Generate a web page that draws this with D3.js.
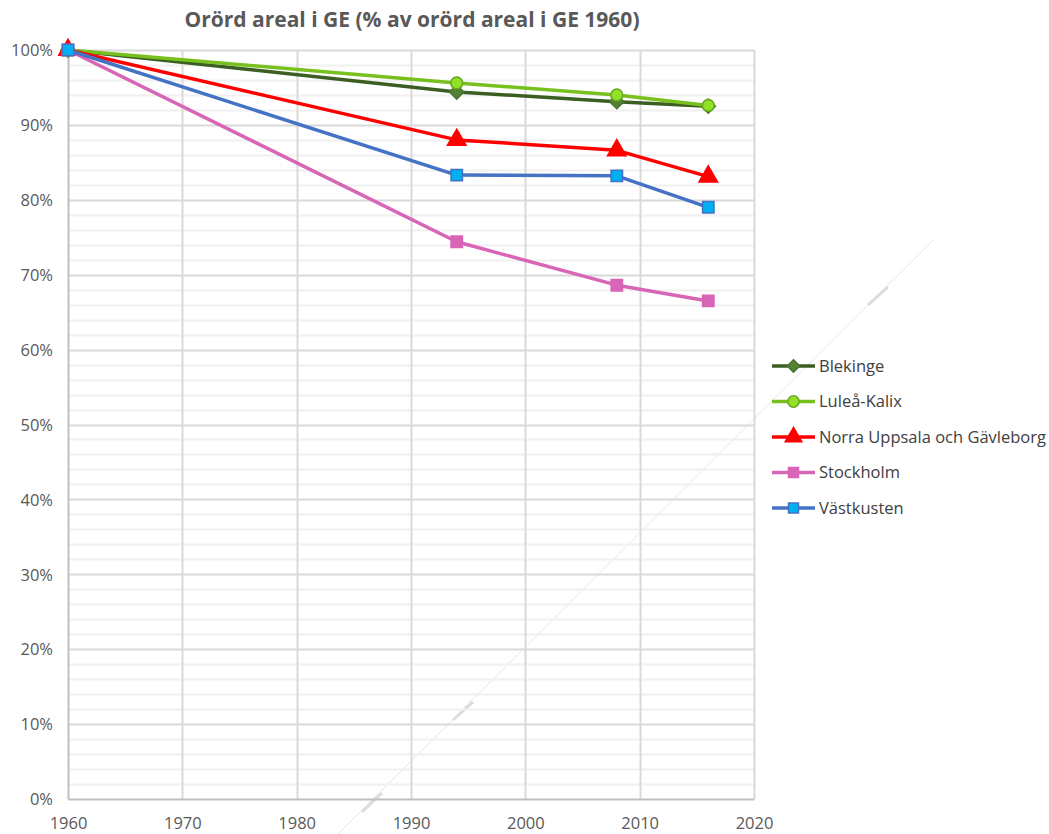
<!DOCTYPE html>
<html>
<head>
<meta charset="utf-8">
<script src="https://cdn.jsdelivr.net/npm/d3@7"></script>
<style>
  body { margin: 0; background: #fff; }
  text { font-family: "Open Sans", "Noto Sans", sans-serif; }
</style>
</head>
<body>
<div id="chart"></div>
<script>
// data
var years = [1960, 1994, 2008, 2016];
var blekinge = [100, 94.4, 93.1, 92.5];
var luleaKalix = [100, 95.6, 94.0, 92.6];
var norraUppsala = [100, 88.0, 86.6, 83.1];
var stockholm = [100, 74.4, 68.6, 66.5];
var vastkusten = [100, 83.3, 83.2, 79.0];
var xTicks = [1960, 1970, 1980, 1990, 2000, 2010, 2020];
var yTicks = [0, 10, 20, 30, 40, 50, 60, 70, 80, 90, 100];

var diamond = {
  draw: function(ctx, size) {
    var r = Math.sqrt(size) / 2 * 1.25;
    ctx.moveTo(0, -r); ctx.lineTo(r, 0); ctx.lineTo(0, r); ctx.lineTo(-r, 0); ctx.closePath();
  }
};

var series = [
  { name: "Blekinge", values: blekinge, line: "#3b5e22", fill: "#548235", stroke: "#4a7430", shape: diamond },
  { name: "Luleå-Kalix", values: luleaKalix, line: "#78c01e", fill: "#92e02a", stroke: "#66a81a", shape: d3.symbolCircle },
  { name: "Norra Uppsala och Gävleborg", values: norraUppsala, line: "#ff0000", fill: "#ff0000", stroke: "#ff0000", shape: d3.symbolTriangle },
  { name: "Stockholm", values: stockholm, line: "#d865b6", fill: "#d865b6", stroke: "#d865b6", shape: d3.symbolSquare },
  { name: "Västkusten", values: vastkusten, line: "#4472c4", fill: "#00b0f0", stroke: "#4472c4", shape: d3.symbolSquare }
];

var W = 1049, H = 834;
var margin = { top: 50, left: 68 };
var width = 754 - margin.left,
    height = 799 - margin.top;

var svg = d3.select("#chart").append("svg")
    .attr("width", W)
    .attr("height", H);

// faint diagonal artefact seen in the reference
var deco = svg.append("g").attr("stroke", "#e4e4e4");
deco.append("line").attr("x1", 338).attr("y1", 834).attr("x2", 934).attr("y2", 239).attr("stroke-width", 1);
[[362, 812, 382, 793], [453, 720, 473, 702], [868, 305, 888, 287]].forEach(function(s) {
  deco.append("line").attr("x1", s[0]).attr("y1", s[1]).attr("x2", s[2]).attr("y2", s[3])
    .attr("stroke-width", 3).attr("stroke", "#dcdcdc");
});

var g = svg.append("g")
    .attr("transform", "translate(" + margin.left + "," + margin.top + ")");

var x = d3.scaleLinear().domain([1960, 2020]).range([0, width]);
var y = d3.scaleLinear().domain([0, 100]).range([height, 0]);

// minor gridlines every 2%
g.append("g").selectAll("line")
  .data(d3.range(2, 100, 2).filter(function(v) { return v % 10 !== 0; }))
  .enter().append("line")
    .attr("x1", 0).attr("x2", width)
    .attr("y1", function(d) { return Math.round(y(d)) + 0.5; })
    .attr("y2", function(d) { return Math.round(y(d)) + 0.5; })
    .attr("stroke", "#f0f0f0").attr("stroke-width", 2);

// major gridlines
g.append("g").selectAll("line")
  .data(yTicks.slice(1))
  .enter().append("line")
    .attr("x1", 0).attr("x2", width)
    .attr("y1", function(d) { return Math.round(y(d)) + 0.5; })
    .attr("y2", function(d) { return Math.round(y(d)) + 0.5; })
    .attr("stroke", "#d9d9d9").attr("stroke-width", 2);

g.append("g").selectAll("line")
  .data(xTicks.slice(1))
  .enter().append("line")
    .attr("x1", function(d) { return Math.round(x(d)) + 0.5; })
    .attr("x2", function(d) { return Math.round(x(d)) + 0.5; })
    .attr("y1", 0).attr("y2", height)
    .attr("stroke", "#d9d9d9").attr("stroke-width", 2);

// axes
var xAxis = d3.axisBottom(x).tickValues(xTicks).tickFormat(d3.format("d")).tickSize(0).tickPadding(18);
var yAxis = d3.axisLeft(y).tickValues(yTicks).tickFormat(function(d) { return d + "%"; }).tickSize(0).tickPadding(15);

var gx = g.append("g").attr("transform", "translate(0," + height + ")").call(xAxis);
var gy = g.append("g").call(yAxis);
[gx, gy].forEach(function(a) {
  a.select(".domain").attr("stroke", "#bfbfbf").attr("stroke-width", 2);
  a.selectAll("text").attr("fill", "#595959").style("font-size", "16.5px")
    .style("font-family", "'Open Sans', sans-serif");
});
gy.selectAll("text").attr("dy", "0.35em");

// lines and markers
var line = d3.line()
    .x(function(d, i) { return x(years[i]); })
    .y(function(d) { return y(d); });

function markerSize(shape) {
  if (shape === d3.symbolTriangle) return 150;
  if (shape === d3.symbolCircle) return 110;
  return 130;
}

series.forEach(function(s) {
  g.append("path")
    .datum(s.values)
    .attr("d", line)
    .attr("fill", "none")
    .attr("stroke", s.line)
    .attr("stroke-width", 3.5)
    .attr("stroke-linejoin", "round");
  g.append("g").selectAll("path")
    .data(s.values)
    .enter().append("path")
      .attr("transform", function(d, i) { return "translate(" + x(years[i]) + "," + y(d) + ")"; })
      .attr("d", d3.symbol().type(s.shape).size(markerSize(s.shape)))
      .attr("fill", s.fill)
      .attr("stroke", s.stroke)
      .attr("stroke-width", 1.5);
});

// title
svg.append("text")
  .attr("x", 412).attr("y", 27)
  .attr("text-anchor", "middle")
  .attr("fill", "#595959")
  .style("font-size", "21px")
  .style("font-weight", "bold")
  .text("Orörd areal i GE (% av orörd areal i GE 1960)");

// legend
var legend = svg.append("g").attr("transform", "translate(772,366)");
series.forEach(function(s, i) {
  var row = legend.append("g").attr("transform", "translate(0," + (i * 35.5) + ")");
  row.append("line").attr("x1", 0).attr("x2", 43).attr("y1", 0).attr("y2", 0)
    .attr("stroke", s.line).attr("stroke-width", 3.5);
  row.append("path")
    .attr("transform", "translate(21.5,0)")
    .attr("d", d3.symbol().type(s.shape).size(s.shape === d3.symbolTriangle ? 120 : 100))
    .attr("fill", s.fill).attr("stroke", s.stroke).attr("stroke-width", 1.5);
  row.append("text")
    .attr("x", 47).attr("y", 0).attr("dy", "0.35em")
    .attr("fill", "#404040")
    .style("font-size", "16.5px")
    .text(s.name);
});
</script>
</body>
</html>
